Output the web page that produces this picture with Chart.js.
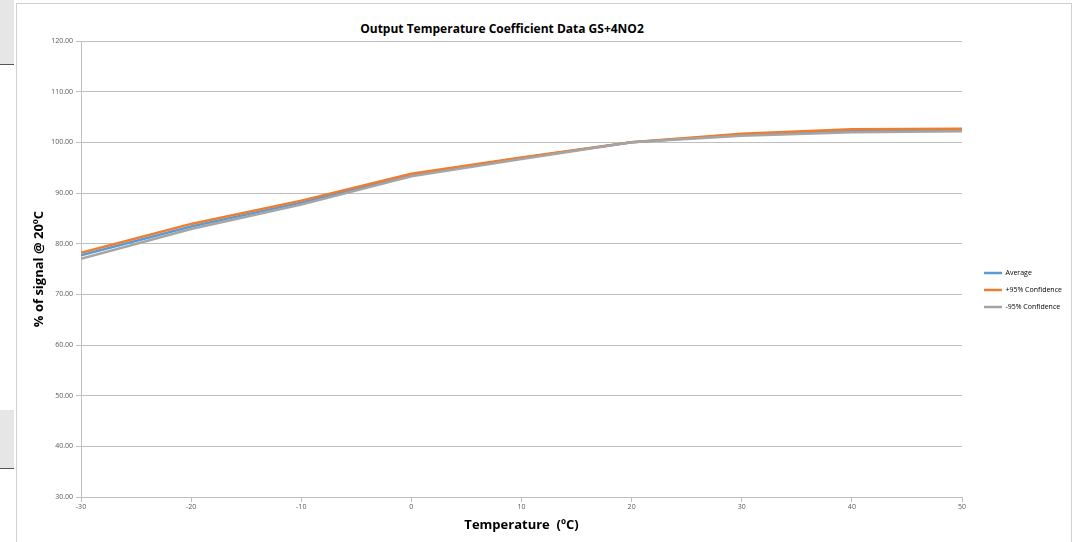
<!DOCTYPE html>
<html>

<head>
    <title>Output Temperature Coefficient Data GS+4NO2</title>
    <script src="https://cdn.jsdelivr.net/npm/chart.js@4.4.0/dist/chart.umd.min.js"></script>
    <style>
        body {
            margin: 0;
            background: #fff;
            font-family: 'Open Sans', 'Liberation Sans', sans-serif;
        }

        .frame {
            position: absolute;
            left: 16px;
            top: 3px;
            width: 1054px;
            height: 545px;
            border: 1px solid #d0d0d0;
        }

        .sheet {
            position: absolute;
            left: 0;
            width: 14px;
            background: #e6e6e6;
            border-bottom: 1px solid #555;
        }

        .chart-title {
            position: absolute;
            top: 20px;
            left: 300px;
            width: 404px;
            text-align: center;
            font-weight: bold;
            font-size: 12px;
            color: #000;
        }

        .chart-container {
            position: absolute;
            left: 0;
            top: 0;
            width: 1077px;
            height: 542px;
        }
    </style>
</head>

<body>
    <div class="sheet" style="top:0;height:64px"></div>
    <div class="sheet" style="top:410px;height:58px"></div>
    <div class="frame"></div>
    <div class="chart-title">Output Temperature Coefficient Data GS+4NO2</div>
    <div class="chart-container">
        <canvas id="tc-chart"></canvas>
    </div>

    <script>
        // temperatures (degC)
        const temps = [-30, -20, -10, 0, 10, 20, 30, 40, 50];
        // % of signal at 20 degC
        const average = [77.7, 83.4, 88.1, 93.6, 96.9, 100, 101.5, 102.3, 102.5];
        const upper95 = [78.2, 83.9, 88.5, 93.8, 97.0, 100, 101.7, 102.6, 102.7];
        const lower95 = [77.0, 82.9, 87.7, 93.3, 96.7, 100, 101.3, 102.0, 102.2];
        const yTicks = [30, 40, 50, 60, 70, 80, 90, 100, 110, 120];

        const tickColor = '#595959';
        const gridColor = '#bfbfbf';

        const toPoints = arr => arr.map((v, i) => ({ x: temps[i], y: v }));

        // fixed legend width so the plot area ends where the original does,
        // then nudge the legend a bit right/up like in the spreadsheet
        const legendWidth = {
            id: 'legendWidth',
            beforeUpdate(chart) {
                const lg = chart.legend;
                if (lg && !lg._fixedWidth) {
                    const fit = lg.fit;
                    lg.fit = function () {
                        fit.call(this);
                        this.width = 115;
                    };
                    lg._fixedWidth = true;
                }
            },
            afterLayout(chart) {
                chart.legend.left += 12;
                chart.legend.top -= 3;
            }
        };

        const ctx = document.getElementById('tc-chart').getContext('2d');

        new Chart(ctx, {
            type: 'line',
            data: {
                datasets: [{
                    label: 'Average',
                    data: toPoints(average),
                    borderColor: '#5b9bd5',
                    backgroundColor: '#5b9bd5',
                    borderWidth: 2.5,
                    pointRadius: 0,
                    order: 3
                }, {
                    label: '+95% Confidence',
                    data: toPoints(upper95),
                    borderColor: '#ed7d31',
                    backgroundColor: '#ed7d31',
                    borderWidth: 2.5,
                    pointRadius: 0,
                    order: 2
                }, {
                    label: '-95% Confidence',
                    data: toPoints(lower95),
                    borderColor: '#a5a5a5',
                    backgroundColor: '#a5a5a5',
                    borderWidth: 2.5,
                    pointRadius: 0,
                    order: 1
                }]
            },
            options: {
                responsive: true,
                maintainAspectRatio: false,
                animation: false,
                layout: {
                    padding: { top: 41, right: 0, bottom: 0, left: 27 }
                },
                scales: {
                    x: {
                        type: 'linear',
                        min: -30,
                        max: 50,
                        afterFit: scale => { scale.height = 45; },
                        afterBuildTicks: scale => {
                            scale.ticks = temps.map(v => ({ value: v }));
                        },
                        ticks: {
                            color: tickColor,
                            font: { size: 7, family: 'Open Sans' },
                            padding: 1,
                            maxRotation: 0
                        },
                        grid: {
                            drawOnChartArea: false,
                            drawTicks: true,
                            tickLength: 5,
                            color: gridColor
                        },
                        border: { color: gridColor },
                        title: {
                            display: true,
                            text: 'Temperature  (ºC)',
                            color: '#000',
                            font: { size: 13, weight: 'bold', family: 'Open Sans' },
                            padding: { top: 2, bottom: 9 }
                        }
                    },
                    y: {
                        min: 30,
                        max: 120,
                        afterFit: scale => { scale.width = 54; },
                        afterBuildTicks: scale => {
                            scale.ticks = yTicks.map(v => ({ value: v }));
                        },
                        ticks: {
                            color: tickColor,
                            font: { size: 7, family: 'Open Sans' },
                            padding: 3,
                            callback: v => v.toFixed(2)
                        },
                        grid: {
                            color: gridColor,
                            tickLength: 5
                        },
                        border: { color: gridColor },
                        title: {
                            display: true,
                            text: '% of signal @ 20ºC',
                            color: '#000',
                            font: { size: 13, weight: 'bold', family: 'Open Sans' }
                        }
                    }
                },
                plugins: {
                    legend: {
                        position: 'right',
                        labels: {
                            usePointStyle: true,
                            pointStyle: 'line',
                            pointStyleWidth: 18,
                            boxHeight: 7,
                            padding: 10,
                            color: '#000',
                            font: { size: 7, family: 'Open Sans' },
                            sort: (a, b) => a.datasetIndex - b.datasetIndex
                        }
                    },
                    title: { display: false },
                    tooltip: { enabled: false }
                }
            },
            plugins: [legendWidth]
        });
    </script>
</body>

</html>
